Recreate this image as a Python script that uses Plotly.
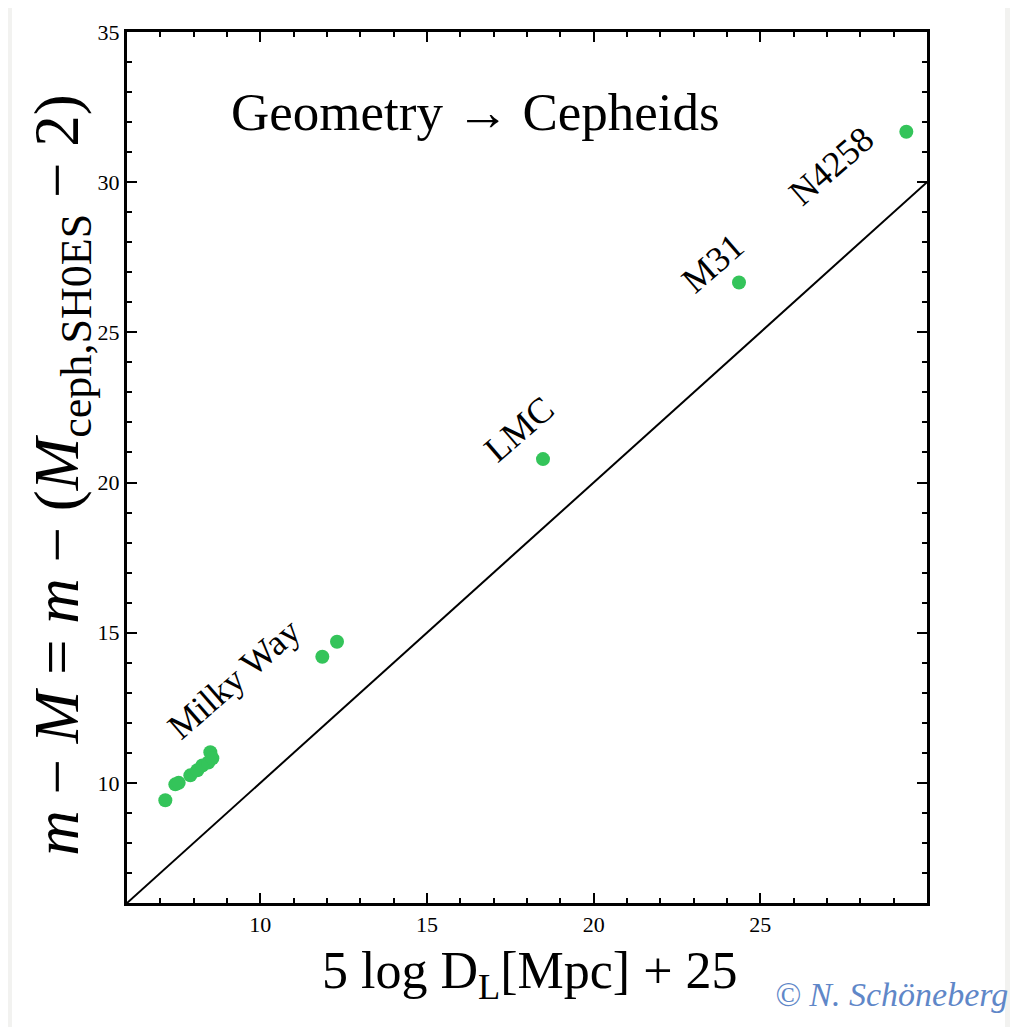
import plotly.graph_objects as go

# Data
x_vals = [7.15, 7.45, 7.55, 7.90, 8.11, 8.26, 8.44, 8.50, 8.56, 11.86, 12.30, 18.48, 24.36, 29.38]
y_vals = [9.42, 9.95, 10.0, 10.25, 10.42, 10.58, 10.68, 11.02, 10.82, 14.20, 14.70, 20.78, 26.66, 31.68]
line_x = [6, 30]
line_y = [6, 30]
label_names = ["Milky Way", "LMC", "M31", "N4258"]
label_x = [9.20, 17.77, 23.59, 27.13]
label_y = [13.47, 21.78, 27.30, 30.55]
x_ticks = [10, 15, 20, 25]
y_ticks = [10, 15, 20, 25, 30, 35]

SERIF = "Liberation Serif, Times New Roman, serif"
GREEN = "rgb(52,196,90)"

fig = go.Figure()
fig.add_trace(go.Scatter(x=line_x, y=line_y, mode="lines",
                         line=dict(color="black", width=2), showlegend=False, hoverinfo="skip"))
fig.add_trace(go.Scatter(x=x_vals, y=y_vals, mode="markers",
                         marker=dict(color=GREEN, size=14, line=dict(width=0)),
                         showlegend=False))

for name, lx, ly in zip(label_names, label_x, label_y):
    fig.add_annotation(x=lx, y=ly, text=name, showarrow=False, textangle=-41,
                       xanchor="center", yanchor="middle",
                       font=dict(family=SERIF, size=36, color="black"))

fig.add_annotation(x=0.435, y=0.908, xref="paper", yref="paper", text="Geometry → Cepheids",
                   showarrow=False, xanchor="center", yanchor="middle",
                   font=dict(family=SERIF, size=53, color="black"))

fig.add_annotation(x=-0.082, y=0.492, xref="paper", yref="paper",
                   text="<i>m</i> − <i>M</i> = <i>m</i> − (<i>M</i><sub>ceph,SH0ES</sub> − 2)",
                   textangle=-90, showarrow=False, xanchor="center", yanchor="middle",
                   font=dict(family=SERIF, size=63, color="black"))

fig.add_annotation(x=0.504, y=-0.0825, xref="paper", yref="paper",
                   text="5 log D<sub>L</sub>[Mpc] + 25", showarrow=False,
                   xanchor="center", yanchor="middle",
                   font=dict(family=SERIF, size=52, color="black"))

fig.add_annotation(x=1.104, y=-0.105, xref="paper", yref="paper",
                   text="<i>© N. Schöneberg</i>", showarrow=False,
                   xanchor="right", yanchor="middle",
                   font=dict(family=SERIF, size=34, color="rgb(95,135,200)"))

# white slide area over the gray frame
fig.add_shape(type="rect", xref="paper", yref="paper", x0=-0.14375, x1=1.0975,
              y0=-0.16, y1=1.03, fillcolor="white", line=dict(width=0), layer="below")

axis_common = dict(showgrid=False, zeroline=False, showline=True, linecolor="black", linewidth=3,
                   mirror="allticks", ticks="inside", ticklen=10, tickwidth=2, tickcolor="black",
                   tickfont=dict(family=SERIF, size=22, color="black"),
                   minor=dict(ticks="inside", ticklen=5, tickwidth=2, tickcolor="black", dtick=1))

fig.update_xaxes(range=[6, 30], tickvals=x_ticks, **axis_common)
fig.update_yaxes(range=[6, 35], tickvals=y_ticks, **axis_common)

fig.update_layout(width=1010, height=1019, margin=dict(l=119, r=91, t=22, b=124),
                  paper_bgcolor="rgb(242,242,240)", plot_bgcolor="white")

fig.write_html("out.html")
